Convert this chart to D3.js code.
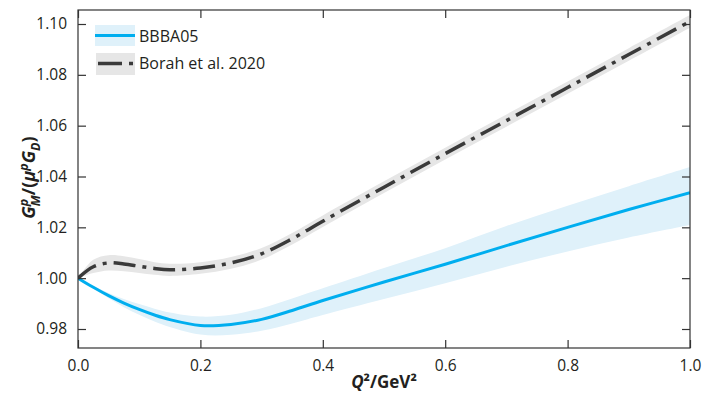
<!DOCTYPE html>
<html>
<head>
<meta charset="utf-8">
<script src="https://cdn.jsdelivr.net/npm/d3@7"></script>
<style>
  body { margin: 0; background: #fff; }
  svg { display: block; }
  text { font-family: "Open Sans", "Noto Sans", sans-serif; fill: #231f20; }
</style>
</head>
<body>
<svg id="chart" width="702" height="398"></svg>
<script>
// Q^2 sample points (GeV^2)
const q2 = [0, 0.025, 0.05, 0.075, 0.1, 0.125, 0.15, 0.2, 0.25, 0.3, 0.35, 0.4, 0.5, 0.6, 0.7, 0.8, 0.9, 1.0];

// BBBA05 central curve and band
const bbba05   = [1.000, 0.9964, 0.9931, 0.9902, 0.9877, 0.9855, 0.9837, 0.9814, 0.9818, 0.9838, 0.9873, 0.9912, 0.9985, 1.0055, 1.0128, 1.0200, 1.0270, 1.0336];
const bbba05Lo = [1.000, 0.9960, 0.9921, 0.9886, 0.9856, 0.9830, 0.9808, 0.9778, 0.9777, 0.9793, 0.9822, 0.9855, 0.9918, 0.9980, 1.0045, 1.0105, 1.0160, 1.0209];
const bbba05Hi = [1.000, 0.9969, 0.9942, 0.9918, 0.9898, 0.9880, 0.9865, 0.9849, 0.9856, 0.9882, 0.9920, 0.9960, 1.0040, 1.0118, 1.0205, 1.0285, 1.0362, 1.0437];

// Borah et al. 2020 central curve and band
const borah   = [1.000, 1.0045, 1.0060, 1.0056, 1.0047, 1.0038, 1.0033, 1.0040, 1.0060, 1.0096, 1.0155, 1.0224, 1.0358, 1.0490, 1.0620, 1.0750, 1.0880, 1.1010];
const borahLo = [1.000, 1.0020, 1.0030, 1.0027, 1.0020, 1.0013, 1.0009, 1.0017, 1.0037, 1.0073, 1.0132, 1.0201, 1.0335, 1.0467, 1.0596, 1.0726, 1.0855, 1.0985];
const borahHi = [1.000, 1.0072, 1.0090, 1.0086, 1.0075, 1.0063, 1.0057, 1.0063, 1.0083, 1.0119, 1.0178, 1.0247, 1.0381, 1.0513, 1.0644, 1.0774, 1.0905, 1.1035];

const xTicks = [0, 0.2, 0.4, 0.6, 0.8, 1.0];
const yTicks = [0.98, 1.00, 1.02, 1.04, 1.06, 1.08, 1.10];
const legendNames = ["BBBA05", "Borah et al. 2020"];

const blue = "#00aeef", blueBand = "#dff1fa";
const dark = "#3a3a3a", greyBand = "#e6e6e6";
const dashes = "22,7,4,7";

const svg = d3.select("#chart");
const pL = 78, pR = 690, pT = 10, pB = 348;

const x = d3.scaleLinear().domain([0, 1]).range([pL, pR]);
const y = d3.scaleLinear().domain([0.98, 1.10]).range([329, 24]);

svg.append("clipPath").attr("id", "clip")
  .append("rect").attr("x", pL).attr("y", pT)
  .attr("width", pR - pL).attr("height", pB - pT);

const plot = svg.append("g").attr("clip-path", "url(#clip)");
const curve = d3.curveCatmullRom.alpha(0.5);

const area = (lo, hi) => d3.area()
  .x((d, i) => x(q2[i]))
  .y0((d, i) => y(lo[i]))
  .y1((d, i) => y(hi[i]))
  .curve(curve)(q2);

const line = vals => d3.line()
  .x((d, i) => x(q2[i]))
  .y((d, i) => y(vals[i]))
  .curve(curve)(q2);

plot.append("path").attr("d", area(bbba05Lo, bbba05Hi)).attr("fill", blueBand);
plot.append("path").attr("d", area(borahLo, borahHi)).attr("fill", greyBand);
plot.append("path").attr("d", line(bbba05))
  .attr("fill", "none").attr("stroke", blue).attr("stroke-width", 3);
plot.append("path").attr("d", line(borah))
  .attr("fill", "none").attr("stroke", dark).attr("stroke-width", 3.5)
  .attr("stroke-dasharray", dashes);

// frame + inward ticks on every side
const tl = 8;
const axisCol = "#333";
svg.append("rect").attr("x", pL).attr("y", pT)
  .attr("width", pR - pL).attr("height", pB - pT)
  .attr("fill", "none").attr("stroke", axisCol).attr("stroke-width", 1.2);

const xAxisB = d3.axisBottom(x).tickValues(xTicks).tickSizeInner(-tl).tickSizeOuter(0)
  .tickPadding(tl + 4).tickFormat(d3.format(".1f"));
const gx = svg.append("g").attr("transform", `translate(0,${pB})`).call(xAxisB);
const xAxisT = d3.axisTop(x).tickValues(xTicks).tickSizeInner(-tl).tickSizeOuter(0).tickFormat("");
const gxt = svg.append("g").attr("transform", `translate(0,${pT})`).call(xAxisT);

const yAxisL = d3.axisLeft(y).tickValues(yTicks).tickSizeInner(-tl).tickSizeOuter(0)
  .tickPadding(tl + 3).tickFormat(d3.format(".2f"));
const gy = svg.append("g").attr("transform", `translate(${pL},0)`).call(yAxisL);
const yAxisR = d3.axisRight(y).tickValues(yTicks).tickSizeInner(-tl).tickSizeOuter(0).tickFormat("");
const gyr = svg.append("g").attr("transform", `translate(${pR},0)`).call(yAxisR);

[gx, gxt, gy, gyr].forEach(g => {
  g.select(".domain").remove();
  g.selectAll("line").attr("stroke", axisCol).attr("stroke-width", 1.2);
  g.selectAll("text").style("font-size", "15.5px").attr("fill", "#231f20");
});
gx.selectAll("text").attr("dy", "0.71em");

// legend
const lg = svg.append("g");
lg.append("rect").attr("x", 95).attr("y", 25).attr("width", 40).attr("height", 21).attr("fill", blueBand);
lg.append("line").attr("x1", 95).attr("x2", 135).attr("y1", 35.5).attr("y2", 35.5)
  .attr("stroke", blue).attr("stroke-width", 3);
lg.append("rect").attr("x", 96).attr("y", 53).attr("width", 39).attr("height", 22).attr("fill", greyBand);
lg.append("line").attr("x1", 98).attr("x2", 133).attr("y1", 63.5).attr("y2", 63.5)
  .attr("stroke", dark).attr("stroke-width", 3.5).attr("stroke-dasharray", "24,7,4,7");
lg.selectAll("text.lab").data(legendNames).enter().append("text")
  .attr("class", "lab")
  .attr("x", 139).attr("y", (d, i) => 41.5 + i * 27)
  .style("font-size", "16px").text(d => d);

// x title: Q²/GeV²
const xt = svg.append("text").attr("x", (pL + pR) / 2).attr("y", 388)
  .attr("text-anchor", "middle").style("font-size", "17px").style("font-weight", "bold");
xt.append("tspan").style("font-style", "italic").text("Q");
xt.append("tspan").text("²/GeV²");

// y title: G_M^p/(μ^p G_D), stacked sup/sub on G
const yt = svg.append("text")
  .attr("transform", `translate(35,${(24 + 329) / 2 + 1}) rotate(-90)`)
  .attr("text-anchor", "middle").style("font-size", "18px").style("font-weight", "bold");
yt.append("tspan").style("font-style", "italic").text("G");
const sup1 = yt.append("tspan").style("font-style", "italic").style("font-size", "12.5px")
  .attr("dy", -7.5).text("p");
const wp = sup1.node().getComputedTextLength();
yt.append("tspan").style("font-style", "italic").style("font-size", "12.5px")
  .attr("dx", -wp).attr("dy", 12).text("M");
yt.append("tspan").attr("dy", -4.5).text("/(");
yt.append("tspan").style("font-style", "italic").text("μ");
yt.append("tspan").style("font-style", "italic").style("font-size", "12.5px").attr("dy", -7.5).text("p");
yt.append("tspan").style("font-style", "italic").attr("dy", 7.5).text("G");
yt.append("tspan").style("font-style", "italic").style("font-size", "12.5px").attr("dy", 4.5).text("D");
yt.append("tspan").attr("dy", -4.5).text(")");
</script>
</body>
</html>
